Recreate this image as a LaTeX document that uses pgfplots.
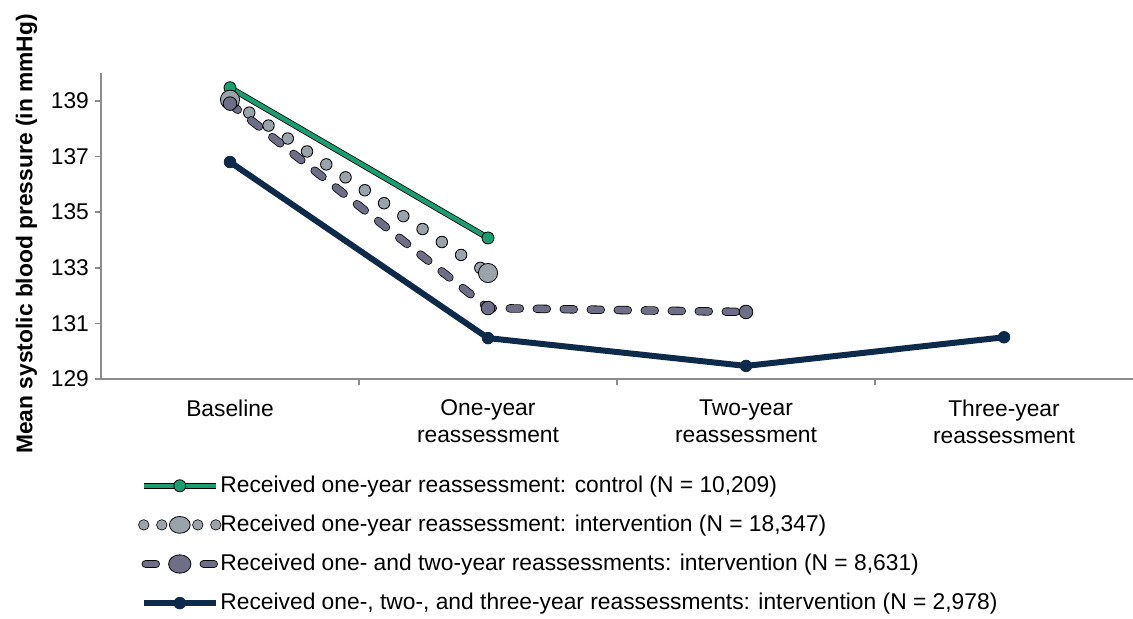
\documentclass[border=0pt]{standalone}
\usepackage{pgfplots}
\pgfplotsset{compat=1.18}
\usepackage{fontspec}
\setmainfont{Liberation Sans}

\definecolor{cgreen}{HTML}{1A9E70}
\definecolor{cltgray}{HTML}{9AA2AA}
\definecolor{cdkgray}{HTML}{6E6E87}
\definecolor{cnavy}{HTML}{0E2A4A}
\definecolor{caxis}{HTML}{8C8C8C}

\begin{document}
\begin{tikzpicture}[font=\fontsize{11.4}{13.4}\selectfont]
\begin{axis}[
    scale only axis, width=516pt, height=153pt,
    xmin=-0.5, xmax=3.5, ymin=129, ymax=140,
    axis lines*=left,
    axis line style={draw=caxis, line width=0.8pt},
    tick style={draw=caxis, line width=0.8pt},
    tick align=outside, major tick length=3pt,
    xtick={0.5,1.5,2.5}, xticklabels={},
    extra x ticks={0,1,2,3},
    extra x tick labels={Baseline, One-year\\reassessment, Two-year\\reassessment, Three-year\\reassessment},
    extra x tick style={major tick length=0pt, xticklabel style={align=center, yshift=-7pt}},
    ytick={129,131,...,139},
    yticklabel style={xshift=0.5pt},
    ylabel={\bfseries Mean systolic blood pressure (in mmHg)},
    ylabel style={xshift=-4pt},
    /pgf/number format/assume math mode=true,
    legend style={at={(0,0)}, anchor=north west, xshift=18.6pt, yshift=-46.5pt,
        inner sep=0pt, outer sep=0pt, column sep=-2.5pt,
        draw=none, fill=none, row sep=5.8pt, font=\fontsize{11.4}{13.4}\selectfont},
    legend cell align=left,
    legend image code/.code={\draw[mark repeat=2, mark phase=2, #1] plot coordinates {(0pt,0pt) (18pt,0pt) (36pt,0pt)};},
    clip=false,
]
% control
\addplot[forget plot, black, line width=3pt] coordinates {(0,139.47) (1,134.07)};
\addplot[cgreen, line width=2.2pt,
    mark=*, mark size=3pt, mark options={solid, fill=cgreen, draw=black, line width=0.4pt},
    legend image code/.code={
        \draw[black, line width=3pt] (0pt,0pt) -- (36pt,0pt);
        \draw[cgreen, line width=2.2pt] (0pt,0pt) -- (36pt,0pt);
        \draw[black, line width=0.4pt, fill=cgreen] (18pt,0pt) circle (3pt);}]
    coordinates {(0,139.47) (1,134.07)};
\addlegendentry{Received one-year reassessment: control (N = 10,209)}

% one-year intervention
\addplot[forget plot, black, line width=6.2pt, line cap=round, dash pattern=on 0pt off 11.6pt]
    coordinates {(0,139.04) (1,132.81)};
\addplot[cltgray, line width=5.4pt, line cap=round, dash pattern=on 0pt off 11.6pt,
    mark=*, mark size=4.8pt, mark options={solid, fill=cltgray, draw=black, line width=0.4pt},
    legend image code/.code={
        \draw[black, line width=5.6pt, line cap=round, dash pattern=on 0pt off 9pt] (0pt,0pt) -- (36pt,0pt);
        \draw[cltgray, line width=4.8pt, line cap=round, dash pattern=on 0pt off 9pt] (0pt,0pt) -- (36pt,0pt);
        \draw[solid, black, line width=0.4pt, fill=cltgray] (18pt,0pt) ellipse (5.2pt and 4.2pt);}]
    coordinates {(0,139.04) (1,132.81)};
\addlegendentry{Received one-year reassessment: intervention (N = 18,347)}

% one- and two-year intervention
\addplot[forget plot, black, line width=4.2pt, line cap=round, dash pattern=on 5pt off 8.5pt]
    coordinates {(0,138.9) (1,131.55) (2,131.41)};
\addplot[cdkgray, line width=3.4pt, line cap=round, dash pattern=on 5pt off 8.5pt,
    mark=*, mark size=3.4pt, mark options={solid, fill=cdkgray, draw=black, line width=0.4pt},
    legend image code/.code={
        \draw[solid, black, line width=4.2pt, line cap=round] (1pt,0pt) -- (6pt,0pt) (30pt,0pt) -- (35pt,0pt);
        \draw[solid, cdkgray, line width=3.4pt, line cap=round] (1pt,0pt) -- (6pt,0pt) (30pt,0pt) -- (35pt,0pt);
        \draw[solid, black, line width=0.4pt, fill=cdkgray] (18pt,0pt) ellipse (5.6pt and 4.6pt);}]
    coordinates {(0,138.9) (1,131.55) (2,131.41)};
\addlegendentry{Received one- and two-year reassessments: intervention (N = 8,631)}

% one-, two- and three-year intervention
\addplot[cnavy, line width=3pt,
    mark=*, mark size=2.9pt, mark options={solid, fill=cnavy, draw=cnavy, line width=0.4pt}]
    coordinates {(0,136.8) (1,130.47) (2,129.47) (3,130.5)};
\addlegendentry{Received one-, two-, and three-year reassessments: intervention (N = 2,978)}

\coordinate (sw) at (rel axis cs:0,0);
\coordinate (ne) at (rel axis cs:1,1);
\end{axis}
\pgfresetboundingbox
\path ([xshift=-50.5pt,yshift=-120pt]sw) rectangle ([yshift=36.5pt]ne);
\end{tikzpicture}
\end{document}
